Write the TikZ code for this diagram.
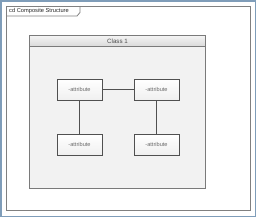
\documentclass[tikz,border=0pt]{standalone}
\usepackage{fontspec}
\setmainfont{Liberation Sans}
\usepackage{tikz}
\usetikzlibrary{positioning,calc}
\definecolor{edgeblue}{HTML}{7F9DB9}
\definecolor{framegray}{HTML}{808080}
\definecolor{classfill}{HTML}{F2F2F2}
\definecolor{classedge}{HTML}{7A7A7A}
\definecolor{headtop}{HTML}{F4F4F4}
\definecolor{headbot}{HTML}{D9D9D9}
\definecolor{partedge}{HTML}{505050}
\definecolor{parttxt}{HTML}{6A6A6A}
\tikzset{
  framebox/.style = {draw=framegray,line width=1pt,fill=white,inner sep=0pt,
                     minimum width=244pt,minimum height=204pt},
  framelbl/.style = {font=\fontsize{5.7}{7}\selectfont,inner sep=0pt,anchor=west,text=black!85},
  classbox/.style = {draw=classedge,line width=1pt,fill=classfill,inner sep=0pt,
                     minimum width=176pt,minimum height=153pt},
  classhead/.style= {draw=classedge,line width=1pt,top color=headtop,bottom color=headbot,
                     inner sep=0pt,minimum width=176pt,minimum height=11pt,
                     font=\fontsize{6.2}{7}\selectfont,text=black!70},
  part/.style     = {draw=partedge,line width=1pt,top color=white,bottom color=black!6,
                     inner sep=0pt,minimum width=45pt,minimum height=21pt,
                     font=\fontsize{5.6}{6}\selectfont,text=parttxt},
  link/.style     = {draw=partedge,line width=1pt},
}
\begin{document}
\begin{tikzpicture}[x=1pt,y=-1pt]
  \useasboundingbox (0,0) rectangle (256,217);
  \fill[white] (0,0) rectangle (256,217);
  \draw[edgeblue,line width=1.5pt] (0.75,0.75) rectangle (255.25,216.25);
  % diagram frame
  \node[framebox,anchor=north west] (frm) at (6,6) {};
  \node[framelbl] (frmlbl) at ($(frm.north west)+(3,5)$) {cd Composite Structure};
  \draw[framegray,line width=0.8pt] ($(frm.north west)+(74,0)$) -- ++(0,6.5)
    -- ++(-3,3.5) -- ($(frm.north west)+(0,10)$);
  % class and its parts
  \node[classbox,anchor=north west] (cls) at (29,35) {};
  \node[classhead,anchor=north west] (clshead) at (cls.north west) {Class 1};
  \node[part] (p1) at (79.5,89.5) {-attribute};
  \node[part,right=31pt of p1] (p2) {-attribute};
  \node[part,below=33pt of p1] (p3) {-attribute};
  \node[part,below=33pt of p2] (p4) {-attribute};
  \draw[link] (p1) -- (p2);
  \draw[link] (p1) -- (p3);
  \draw[link] (p2) -- (p4);
\end{tikzpicture}
\end{document}
